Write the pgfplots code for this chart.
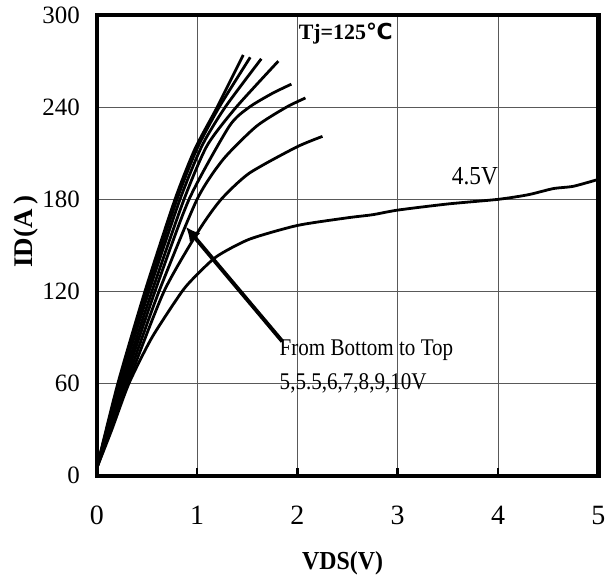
\documentclass[border=0pt]{standalone}
\usepackage{fontspec}
\setmainfont{Liberation Serif}
\newfontfamily\dejavu{DejaVu Sans}
\usepackage{graphicx}
\usepackage{pgfplots}
\pgfplotsset{compat=1.18}
\usetikzlibrary{arrows.meta}
\begin{document}
\begin{tikzpicture}
\begin{axis}[
  scale only axis,
  width=251.5pt, height=231pt,
  xmin=0, xmax=5, ymin=0, ymax=300,
  xtick={0,1,2,3,4,5}, ytick={0,60,120,180,240,300},
  /pgf/number format/assume math mode=true,
  grid=major,
  major grid style={black!65, line width=0.5pt},
  axis line style={line width=2.2pt},
  x tick style={line width=1.3pt, black},
  y tick style={draw=none},
  major tick length=4pt,
  xtick pos=bottom, ytick pos=left,
  tick align=inside,
  yticklabel style={font=\fontsize{12.5}{14}\selectfont, anchor=east, xshift=-5pt},
  xticklabel style={font=\fontsize{14}{16}\selectfont, anchor=center, yshift=-20pt},
  every axis x label/.style={at={(axis description cs:0.49,-0.19)}, anchor=center, font=\bfseries\fontsize{13}{15}\selectfont},
  every axis y label/.style={at={(axis description cs:-0.14,0.53)}, anchor=center, rotate=90, font=\bfseries\fontsize{13.5}{15}\selectfont},
  xlabel={\scalebox{0.92}[1]{VDS(V)}}, ylabel={ID(A\,)},
  clip=false,
]
% 4.5V
\addplot[black, line width=1.4pt, smooth, tension=0.4] coordinates {
(0,5) (0.15,30) (0.32,60) (0.55,90) (0.85,120) (1.0,131) (1.2,143) (1.52,154)
(2.0,163) (2.5,168) (2.75,170) (3.0,173) (3.5,177) (4.0,180) (4.3,183)
(4.55,187) (4.75,188.5) (5.0,193)};
% 5V
\addplot[black, line width=1.4pt, smooth, tension=0.4] coordinates {
(0,5) (0.31,60) (0.67,120) (1.02,160) (1.24,180) (1.52,197) (1.99,214) (2.25,221)};
% 5.5V
\addplot[black, line width=1.4pt, smooth, tension=0.4] coordinates {
(0,5) (0.29,60) (0.62,120) (1.0,180) (1.26,206) (1.59,227.5) (1.89,240) (2.08,246)};
% 6V
\addplot[black, line width=1.4pt, smooth, tension=0.4] coordinates {
(0,5) (0.27,60) (0.58,120) (0.92,180) (1.32,227.5) (1.52,240) (1.75,249) (1.94,255)};
% 7V
\addplot[black, line width=1.4pt, smooth, tension=0.4] coordinates {
(0,5) (0.25,60) (0.55,120) (0.87,180) (1.1,215) (1.39,240) (1.81,270)};
% 8V
\addplot[black, line width=1.4pt, smooth, tension=0.4] coordinates {
(0,5) (0.23,60) (0.52,120) (0.83,180) (1.05,215) (1.28,240) (1.64,271.5)};
% 9V
\addplot[black, line width=1.4pt, smooth, tension=0.4] coordinates {
(0,5) (0.22,60) (0.50,120) (0.80,180) (1.0,213) (1.22,240) (1.53,272.5)};
% 10V
\addplot[black, line width=1.4pt, smooth, tension=0.4] coordinates {
(0,5) (0.21,60) (0.48,120) (0.78,180) (0.98,213) (1.20,240) (1.46,274)};
% annotations
\draw[line width=2pt, -{Latex[length=7pt,width=7pt]}] (axis cs:1.85,87.5) -- (axis cs:0.89,162);
\node[anchor=base west, inner sep=0pt, font=\bfseries\fontsize{11}{13}\selectfont] at (axis cs:2.01,284.4) {Tj=125{\dejavu\bfseries ℃}};
\node[anchor=base, inner sep=0pt, font=\fontsize{13}{15}\selectfont] at (axis cs:3.77,189.6) {\scalebox{0.9}[1]{4.5V}};
\node[anchor=base west, inner sep=0pt, font=\fontsize{12}{14}\selectfont] at (axis cs:1.82,78.2) {\scalebox{0.88}[1]{From Bottom to Top}};
\node[anchor=base west, inner sep=0pt, font=\fontsize{12}{14}\selectfont] at (axis cs:1.82,56.5) {\scalebox{0.88}[1]{5,5.5,6,7,8,9,10V}};
\end{axis}
\path ([xshift=-48.5pt,yshift=-52.5pt]current axis.south west) rectangle ([xshift=6pt,yshift=7.5pt]current axis.north east);
\end{tikzpicture}
\end{document}
